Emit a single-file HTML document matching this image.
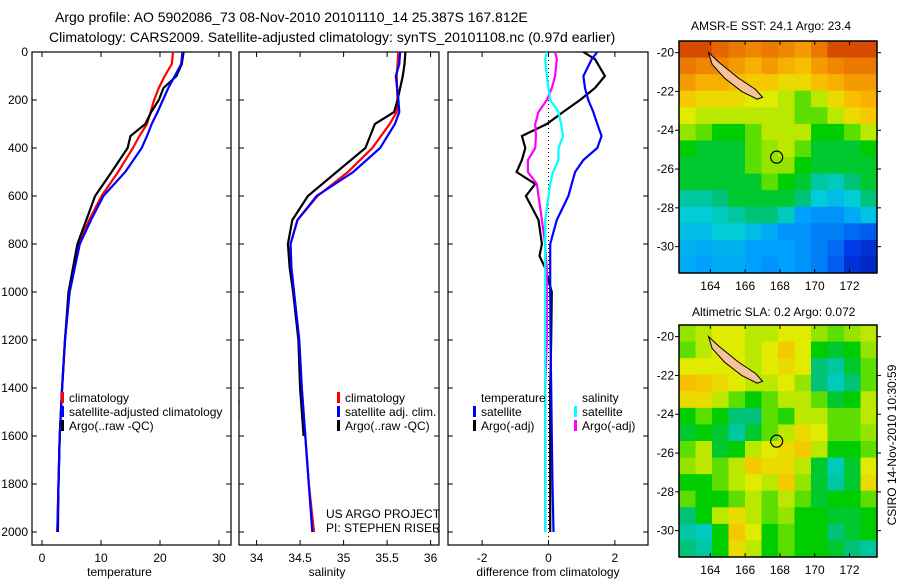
<!DOCTYPE html>
<html><head><meta charset="utf-8"><style>
body{margin:0;background:#fff;width:900px;height:580px;overflow:hidden}
svg{font-family:"Liberation Sans",sans-serif;font-size:12px}
</style></head><body>
<svg id="c" width="900" height="580" xmlns="http://www.w3.org/2000/svg">
<text x="55" y="22" font-size="14">Argo profile: AO 5902086_73 08-Nov-2010 20101110_14 25.387S 167.812E</text>
<text x="49" y="42" font-size="14">Climatology: CARS2009. Satellite-adjusted climatology: synTS_20101108.nc (0.97d earlier)</text>
<text x="691" y="30" font-size="12">AMSR-E SST: 24.1 Argo: 23.4</text>
<text x="692" y="316" font-size="12">Altimetric SLA: 0.2 Argo: 0.072</text>
<text transform="translate(896,445) rotate(-90)" text-anchor="middle" font-size="12">CSIRO 14-Nov-2010 10:30:59</text>
<g id="g"></g>
</svg>
<script>
// ---- data ----
const depthT = [0,50,100,150,200,250,300,350,400,500,600,700,800,1000,1200,1400,1600,1800,2000];
const tempClim = [22.2,22.0,20.8,19.8,19.0,18.4,17.8,16.5,15.4,12.9,10.1,8.0,6.2,4.6,3.9,3.4,3.0,2.8,2.6];
const tempSat  = [23.8,23.6,22.5,21.4,20.5,19.6,18.6,17.8,16.9,14.1,10.4,8.3,6.4,4.7,3.9,3.4,3.0,2.8,2.6];
const tempArgo = [24.0,23.7,22.8,20.6,19.8,18.5,17.5,15.0,14.5,11.8,9.0,7.5,6.0,4.5,3.9,3.4,3.0,2.8,2.7];
const depthS = [0,50,100,200,250,300,400,500,600,700,800,900,1000,1200,1400,1600,1800,2000];
const salClim = [35.63,35.62,35.61,35.62,35.61,35.53,35.33,35.05,34.70,34.47,34.39,34.40,34.43,34.49,34.52,34.56,34.60,34.66];
const salSat  = [35.65,35.64,35.60,35.63,35.64,35.59,35.42,35.11,34.69,34.47,34.39,34.40,34.43,34.49,34.52,34.56,34.60,34.64];
const salArgo = [35.71,35.70,35.68,35.62,35.58,35.36,35.25,34.92,34.59,34.41,34.36,34.38,34.42,34.48,34.50,34.54];
const depthD = [0,30,100,150,200,250,300,350,400,450,500,550,600,700,800,850,900,1000,1200,1400,1600,1800,2000];
const dTsat  = [1.47,1.3,1.05,1.1,1.2,1.35,1.47,1.6,1.47,1.05,0.8,0.7,0.6,0.25,0.05,0.05,0.05,0.05,0.06,0.08,0.1,0.12,0.15];
const dTargo = [1.05,1.4,1.7,1.4,0.95,0.44,-0.05,-0.8,-0.7,-0.8,-0.96,-0.4,-0.68,-0.3,-0.2,-0.27,-0.1,0.1,0.08,0.05,0.05,0.05,0.05];
const dSargo = [0.2,0.25,0.2,0.1,-0.05,-0.3,-0.4,-0.38,-0.4,-0.62,-0.62,-0.35,-0.3,-0.2,-0.1,-0.08,-0.05,-0.05,-0.05,-0.1,-0.1,-0.1,-0.1];
const dSsat  = [-0.05,-0.1,-0.05,0.0,0.05,0.3,0.38,0.44,0.3,0.3,0.14,0.05,0.0,-0.1,-0.1,-0.1,-0.1,-0.1,-0.1,-0.1,-0.1,-0.1,-0.1];
const depthTicks = [0,200,400,600,800,1000,1200,1400,1600,1800,2000];
const tempTicks = [0,10,20,30];
const salTicks = [34,34.5,35,35.5,36];
const diffTicks = [-2,0,2];
const lonTicks = [164,166,168,170,172];
const latTicks = [-20,-22,-24,-26,-28,-30];
const sstGrid = [
[0.85,0.85,0.82,0.8,0.78,0.8,0.78,0.75,0.8,0.85,0.85,0.85],
[0.8,0.78,0.78,0.75,0.72,0.75,0.72,0.7,0.75,0.78,0.8,0.8],
[0.75,0.72,0.72,0.7,0.68,0.68,0.65,0.65,0.7,0.72,0.75,0.75],
[0.68,0.65,0.65,0.65,0.62,0.62,0.6,0.55,0.6,0.65,0.7,0.72],
[0.62,0.6,0.6,0.6,0.6,0.6,0.6,0.55,0.55,0.6,0.65,0.68],
[0.58,0.55,0.5,0.5,0.55,0.6,0.6,0.6,0.5,0.5,0.55,0.6],
[0.5,0.48,0.48,0.48,0.55,0.58,0.6,0.55,0.48,0.48,0.48,0.5],
[0.48,0.48,0.48,0.48,0.55,0.58,0.58,0.5,0.48,0.48,0.48,0.48],
[0.48,0.48,0.48,0.48,0.48,0.55,0.5,0.48,0.42,0.4,0.45,0.48],
[0.42,0.42,0.45,0.48,0.48,0.48,0.48,0.45,0.38,0.35,0.38,0.45],
[0.38,0.38,0.4,0.42,0.45,0.45,0.4,0.3,0.28,0.28,0.32,0.36],
[0.35,0.35,0.38,0.38,0.35,0.32,0.28,0.28,0.25,0.25,0.22,0.2],
[0.33,0.32,0.33,0.33,0.3,0.3,0.3,0.28,0.25,0.22,0.15,0.12],
[0.32,0.3,0.32,0.32,0.3,0.28,0.3,0.28,0.25,0.2,0.12,0.1]];
const slaGrid = [
[0.58,0.6,0.62,0.62,0.6,0.6,0.62,0.62,0.58,0.55,0.58,0.6],
[0.55,0.6,0.62,0.62,0.6,0.62,0.68,0.62,0.5,0.48,0.5,0.58],
[0.62,0.62,0.62,0.62,0.6,0.62,0.65,0.62,0.45,0.42,0.48,0.55],
[0.7,0.68,0.65,0.62,0.6,0.6,0.62,0.58,0.45,0.4,0.45,0.55],
[0.65,0.65,0.6,0.55,0.5,0.55,0.6,0.6,0.55,0.48,0.5,0.6],
[0.5,0.55,0.5,0.45,0.45,0.55,0.52,0.6,0.6,0.55,0.55,0.6],
[0.48,0.5,0.48,0.42,0.48,0.55,0.6,0.65,0.62,0.55,0.55,0.58],
[0.55,0.6,0.48,0.5,0.6,0.62,0.65,0.68,0.6,0.5,0.5,0.55],
[0.58,0.6,0.55,0.6,0.68,0.65,0.65,0.6,0.48,0.4,0.48,0.62],
[0.5,0.5,0.55,0.6,0.62,0.6,0.68,0.58,0.48,0.42,0.48,0.65],
[0.55,0.5,0.5,0.55,0.6,0.55,0.6,0.55,0.48,0.5,0.5,0.55],
[0.45,0.5,0.6,0.65,0.6,0.55,0.58,0.5,0.5,0.48,0.48,0.5],
[0.42,0.4,0.5,0.68,0.62,0.5,0.55,0.5,0.5,0.45,0.48,0.5],
[0.45,0.42,0.5,0.65,0.6,0.5,0.55,0.5,0.5,0.48,0.45,0.42]];
const argoLon = 167.812, argoLat = -25.387;

// ---- helpers ----
const NS="http://www.w3.org/2000/svg", G=document.getElementById('g');
function mk(t,a,p){const e=document.createElementNS(NS,t);for(const k in a)e.setAttribute(k,a[k]);(p||G).appendChild(e);return e;}
const TOP=52, BOT=545;
const yD = d => TOP + d*0.24;
const panels = [
 {x0:32,x1:231,sx:v=>42+v*5.9,ticks:tempTicks,label:'temperature',name:'temperature'},
 {x0:239,x1:439,sx:v=>256.6+(v-34)*87,ticks:salTicks,label:'salinity',name:'salinity'},
 {x0:448,x1:648,sx:v=>548.5+v*33.2,ticks:diffTicks,label:'difference from climatology',name:'difference'}];
panels.forEach((p,i)=>{
  const f=mk('rect',{x:p.x0,y:TOP,width:p.x1-p.x0,height:BOT-TOP,fill:'#fff',stroke:'#000','stroke-width':1.2});
  
  
  p.ticks.forEach(t=>{const x=p.sx(t);
    mk('line',{x1:x,x2:x,y1:TOP,y2:TOP+5,stroke:'#000'});mk('line',{x1:x,x2:x,y1:BOT,y2:BOT-5,stroke:'#000'});
    const l=mk('text',{x:x,y:BOT+17,'text-anchor':'middle'});l.textContent=String(t);
    
    });
  depthTicks.forEach(d=>{const y=yD(d);
    mk('line',{x1:p.x0,x2:p.x0+5,y1:y,y2:y,stroke:'#000'});mk('line',{x1:p.x1,x2:p.x1-5,y1:y,y2:y,stroke:'#000'});
    if(i==0){const l=mk('text',{x:28,y:y+4,'text-anchor':'end'});l.textContent=String(d);
      
      }});
  const xl=mk('text',{x:(p.x0+p.x1)/2-(i==2?0:12),y:576,'text-anchor':'middle'});xl.textContent=p.label;
  
  
});
mk('line',{x1:panels[2].sx(0),x2:panels[2].sx(0),y1:TOP,y2:BOT,stroke:'#000','stroke-dasharray':'1 3'});
function line(p,xs,ds,col,name,w){
  const pts=xs.map((v,i)=>p.sx(v).toFixed(1)+','+yD(ds[i]).toFixed(1)).join(' ');
  const e=mk('polyline',{points:pts,fill:'none',stroke:col,'stroke-width':w||2.2});
  
  
}
line(panels[0],tempClim,depthT,'#f00','temp-climatology-line');
line(panels[0],tempArgo,depthT,'#000','temp-argo-line');
line(panels[0],tempSat,depthT,'#00f','temp-satellite-line');
line(panels[1],salClim,depthS,'#f00','sal-climatology-line');
line(panels[1],salArgo,depthS.slice(0,salArgo.length),'#000','sal-argo-line');
line(panels[1],salSat,depthS,'#00f','sal-satellite-line');
line(panels[2],dTargo,depthD,'#000','diff-temp-argo-line');
line(panels[2],dTsat,depthD,'#00f','diff-temp-satellite-line');
line(panels[2],dSargo,depthD,'#f0f','diff-sal-argo-line');
line(panels[2],dSsat,depthD,'#0ff','diff-sal-satellite-line');
// legends
function leg(x,y,col,txt,name){
  if(col)mk('rect',{x:x,y:y-10,width:3,height:11,fill:col});
  const t=mk('text',{x:x+8,y:y});t.textContent=txt;
  
  }
leg(61,402,'#f00','climatology','legend-climatology');
leg(61,416,'#00f','satellite-adjusted climatology','legend-satellite-adjusted');
leg(61,430,'#000','Argo(..raw -QC)','legend-argo');
mk('rect',{x:232,y:405,width:6.5,height:14,fill:'#fff'});
mk('line',{x1:239,x2:239,y1:400,y2:420,stroke:'#000','stroke-width':1.2});
leg(337,402,'#f00','climatology','legend2-climatology');
leg(337,416,'#00f','satellite adj. clim.','legend2-satellite');
leg(337,430,'#000','Argo(..raw -QC)','legend2-argo');
leg(473,402,null,'temperature','legend-temperature-header');
leg(473,416,'#00f','satellite','legend-temp-satellite');
leg(473,430,'#000','Argo(-adj)','legend-temp-argo');
leg(574,402,null,'salinity','legend-salinity-header');
leg(574,416,'#0ff','satellite','legend-sal-satellite');
leg(574,430,'#f0f','Argo(-adj)','legend-sal-argo');
const t1=mk('text',{x:326,y:518});t1.textContent='US ARGO PROJECT';


const t2=mk('text',{x:326,y:532});t2.textContent='PI: STEPHEN RISER';


// maps
const cmapStops=[[0,[0,0,140]],[0.15,[0,60,230]],[0.3,[0,160,255]],[0.38,[0,205,215]],[0.45,[0,195,120]],[0.5,[0,205,0]],[0.56,[110,225,0]],[0.62,[225,235,0]],[0.7,[250,190,0]],[0.8,[235,120,0]],[0.9,[195,30,0]],[1,[150,0,0]]];
function jet(v){
  for(let i=1;i<cmapStops.length;i++){const a=cmapStops[i-1],b=cmapStops[i];
    if(v<=b[0]){const f=(v-a[0])/(b[0]-a[0]);return 'rgb('+a[1].map((c,k)=>Math.round(c+(b[1][k]-c)*f)).join(',')+')';}}
  return 'rgb(150,0,0)';}
function map(grid,top,name){
  const L=679,R=877,B=top+232, lon0=162.2, lat0=-19.4;
  const sx=lon=>L+(lon-lon0)*17.4, sy=lat=>top+(lat0-lat)*19.4;
  const rows=grid.length, cols=grid[0].length, cw=(R-L)/cols, ch=(B-top)/rows;
  grid.forEach((row,r)=>row.forEach((v,c)=>{
    const e=mk('rect',{x:L+c*cw,y:top+r*ch,width:cw+0.5,height:ch+0.5,fill:jet(v)});
    
    }));
  const isl=mk('polygon',{points:[[163.9,-20.0],[164.5,-20.5],[165.6,-21.3],[166.6,-21.9],[167.0,-22.3],[166.7,-22.4],[165.8,-22.0],[164.8,-21.3],[164.1,-20.6]].map(p=>sx(p[0])+','+sy(p[1])).join(' '),fill:'#f5c29c',stroke:'#000','stroke-width':1});
  
  
  const m=mk('circle',{cx:sx(argoLon),cy:sy(argoLat),r:6,fill:'none',stroke:'#000','stroke-width':1.2});
  
  
  mk('rect',{x:L,y:top,width:R-L,height:B-top,fill:'none',stroke:'#000','stroke-width':1.5});
  lonTicks.forEach(l=>{const x=sx(l);mk('line',{x1:x,x2:x,y1:top,y2:top+4,stroke:'#000'});mk('line',{x1:x,x2:x,y1:B,y2:B-4,stroke:'#000'});
    const t=mk('text',{x:x,y:B+17,'text-anchor':'middle'});t.textContent=String(l);
    
    });
  latTicks.forEach(l=>{const y=sy(l);mk('line',{x1:L,x2:L-4,y1:y,y2:y,stroke:'#000'});mk('line',{x1:R,x2:R+4,y1:y,y2:y,stroke:'#000'});
    const t=mk('text',{x:L-5,y:y+4,'text-anchor':'end'});t.textContent=String(l);
    
    });
}
map(sstGrid,41,'sst-map');
map(slaGrid,325,'sla-map');
</script>
</body></html>
